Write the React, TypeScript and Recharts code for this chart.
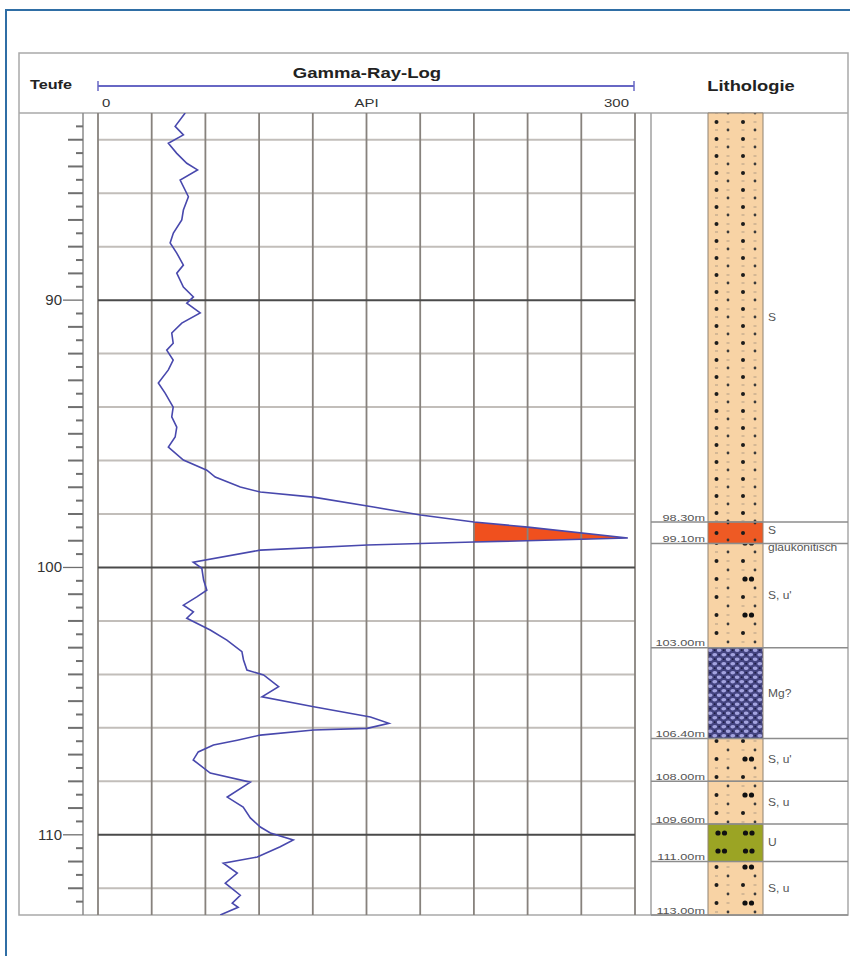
import React from 'react';
import {
  Area,
  ComposedChart,
  Line,
  ReferenceArea,
  ReferenceLine,
  XAxis,
  YAxis,
} from 'recharts';

const FONT = '"Liberation Sans", Arial, Helvetica, sans-serif';

// gamma-ray log, depth in m, reading in API
const depths = [
  83.0, 83.5, 83.82, 84.13, 84.51, 84.88, 85.13, 85.51, 86.13, 86.63, 87.0, 87.49, 87.86, 88.24,
  88.69, 88.99, 89.51, 89.88, 90.11, 90.48, 90.86, 91.23, 91.61, 91.87, 92.24, 92.61, 93.1, 93.48,
  94.0, 94.37, 94.75, 95.12, 95.5, 95.98, 96.36, 96.62, 96.99, 97.18, 97.37, 97.74, 98.04, 98.3,
  98.49, 98.9, 99.05, 99.16, 99.35, 99.8, 100.03, 100.47, 100.85, 101.1, 101.41, 101.66, 101.9,
  102.34, 102.72, 103.15, 103.46, 103.84, 104.02, 104.46, 104.84, 105.21, 105.59, 105.83, 106.02,
  106.08, 106.27, 106.46, 106.64, 106.9, 107.2, 107.69, 108.03, 108.59, 108.96, 109.37, 109.71,
  109.93, 110.19, 110.45, 110.83, 111.06, 111.43, 111.81, 112.26, 112.56, 112.71, 113.0,
];
const gammaApi = [
  48.7, 43.1, 47.7, 39.3, 44, 49.6, 55.6, 45.9, 50.5, 47.7, 46.8, 42.1, 40.3, 44, 47.7, 44, 47.7,
  53.3, 49.6, 57.1, 46.8, 41.2, 42, 38.4, 42, 39.3, 33.7, 37.5, 42, 41.2, 44, 43.1, 39.3, 47.7,
  60.8, 65.5, 79.5, 90.7, 120.3, 153.9, 180.2, 210, 240.1, 296, 210, 150.5, 90.7, 53.2, 58, 59,
  60.8, 55.2, 47.7, 53.3, 49.6, 62.7, 72, 80.4, 81.3, 83.2, 92.5, 100.9, 91.6, 120.5, 152.2, 162.5,
  150.4, 120.5, 90.7, 77.8, 64.5, 56, 53.2, 62.7, 85.1, 72.2, 81.1, 85.1, 90.7, 96.3, 109.1, 101.8,
  89, 70, 77.8, 71.1, 79.5, 75, 78.3, 68.3,
];
// shaded peak (glauconitic sand)
const anomalyTop = 98.3;
const anomalyBase = 99.05;
const anomalyCutoff = 210;

const apiTicks = [0, 150, 300];
const apiTickLabels = ['0', 'API', '300'];
const apiGrid = [0, 30, 60, 90, 120, 150, 180, 210, 240, 270, 300];
const minorDepthLines = [84, 86, 88, 92, 94, 96, 98, 102, 104, 106, 108, 112];
const majorDepthLines = [90, 100, 110];
const depthLabels = [90, 100, 110];
const depthTicks = Array.from({ length: 59 }, (_, i) => 83.5 + i * 0.5);

// lithology column
const lithTops = [83, 98.3, 99.1, 103, 106.4, 108, 109.6, 111];
const lithBases = [98.3, 99.1, 103, 106.4, 108, 109.6, 111, 113];
const lithNames = ['S', 'S\nglaukonitisch', "S, u'", 'Mg?', "S, u'", 'S, u', 'U', 'S, u'];
const lithPatterns = ['sand', 'glauk', 'sandSilt', 'marl', 'sandSilt', 'sandSilt', 'silt', 'sandSilt'];
const baseLabels = ['98.30m', '99.10m', '103.00m', '106.40m', '108.00m', '109.60m', '111.00m', '113.00m'];

const grRows = depths.map((d, i) => ({
  depth: d,
  api: gammaApi[i],
  band: d >= anomalyTop && d <= anomalyBase ? [anomalyCutoff, gammaApi[i]] : undefined,
}));

const lithRows = lithTops.map((t, i) => ({
  top: t,
  base: lithBases[i],
  name: lithNames[i],
  pattern: lithPatterns[i],
  baseLabel: baseLabels[i],
}));

const X_MIN = -(15 * 300) / 537;
const LITH_W = 197;
const STRIP_X1 = 57;
const STRIP_X2 = 112;

function SText({ x, y, sx = 1, anchor = 'start', size, bold = false, fill = '#222', children }: any) {
  return (
    <text
      transform={`translate(${x},${y}) scale(${sx},1)`}
      textAnchor={anchor}
      fontSize={size}
      fontWeight={bold ? 'bold' : 'normal'}
      fill={fill}
      fontFamily={FONT}
    >
      {children}
    </text>
  );
}

function DepthTick(props: any) {
  const { x, y, payload } = props;
  const v = payload.value;
  const labelled = depthLabels.includes(v);
  const whole = Number.isInteger(v);
  const len = labelled ? 20 : whole ? 15 : 7;
  return (
    <g>
      <line x1={x - len} x2={x} y1={y} y2={y} stroke="#6f6f6f" strokeWidth={labelled ? 1.3 : 2} />
      {labelled && (
        <text x={x - 21} y={y + 5} textAnchor="end" fontSize={15} fill="#333" fontFamily={FONT}>
          {v}
        </text>
      )}
    </g>
  );
}

function ApiTick(props: any) {
  const { x, y, payload } = props;
  const i = apiTicks.indexOf(payload.value);
  const anchor = i === 0 ? 'start' : i === apiTicks.length - 1 ? 'end' : 'middle';
  const dx = i === 0 ? 4 : i === apiTicks.length - 1 ? -6 : 0;
  return (
    <SText x={x + dx} y={y - 6} sx={1.3} anchor={anchor} size={11.5} fill="#333">
      {apiTickLabels[i]}
    </SText>
  );
}

const lithLabel = (name: string) => (props: any) => {
  const vb = props.viewBox;
  const lines = name.split('\n');
  const tx = vb.x + vb.width + 5;
  const cy = vb.y + vb.height / 2;
  return (
    <g>
      {lines.map((l, k) => (
        <SText key={k} x={tx} y={cy + (lines.length > 1 ? 1.5 + k * 17 : 3.5)} sx={1.2} size={10} fill="#555">
          {l}
        </SText>
      ))}
    </g>
  );
};

const baseLabel = (text: string) => (props: any) => {
  const vb = props.viewBox;
  return (
    <SText x={vb.x + STRIP_X1 - 3} y={vb.y - 1.5} sx={1.3} anchor="end" size={9.8} fill="#555">
      {text}
    </SText>
  );
};

export default function App() {
  return (
    <div style={{ position: 'absolute', left: 0, top: 0, width: 850, height: 956, background: '#fff', overflow: 'hidden' }}>
      {/* frame and header */}
      <svg width={850} height={956} style={{ position: 'absolute', left: 0, top: 0 }}>
        <rect x={6} y={10} width={900} height={1000} fill="none" stroke="#2f6ea5" strokeWidth={2} />
        <rect x={19} y={53} width={829} height={862} fill="none" stroke="#a9a9a9" strokeWidth={1.5} />
        <line x1={19} x2={848} y1={113} y2={113} stroke="#a9a9a9" strokeWidth={1.5} />
        <line x1={651} x2={651} y1={113} y2={915} stroke="#a0a0a0" strokeWidth={1.5} />
        <SText x={30} y={89} sx={1.35} size={12} bold>
          Teufe
        </SText>
        <SText x={367} y={78} sx={1.28} anchor="middle" size={14.5} bold>
          Gamma-Ray-Log
        </SText>
        <line x1={98} x2={634} y1={86} y2={86} stroke="#6767c4" strokeWidth={2} />
        <line x1={98} x2={98} y1={81} y2={91} stroke="#6767c4" strokeWidth={1.5} />
        <line x1={634} x2={634} y1={81} y2={91} stroke="#6767c4" strokeWidth={1.5} />
        <SText x={751} y={91} sx={1.18} anchor="middle" size={15.5} bold>
          Lithologie
        </SText>
      </svg>

      {/* gamma-ray log */}
      <div style={{ position: 'absolute', left: 0, top: 0 }}>
        <ComposedChart
          layout="vertical"
          width={640}
          height={956}
          data={grRows}
          margin={{ top: 93, right: 5, bottom: 41, left: 0 }}
        >
          <XAxis
            type="number"
            orientation="top"
            domain={[X_MIN, 300]}
            allowDataOverflow
            ticks={apiTicks}
            interval={0}
            height={20}
            axisLine={false}
            tickLine={false}
            tickSize={0}
            tickMargin={0}
            tick={<ApiTick />}
          />
          <YAxis
            type="number"
            dataKey="depth"
            domain={[83, 113]}
            allowDataOverflow
            ticks={depthTicks}
            interval={0}
            width={83}
            tickSize={0}
            tickMargin={0}
            tickLine={false}
            axisLine={{ stroke: '#8a8a8a', strokeWidth: 1.5 }}
            tick={<DepthTick />}
          />

          {minorDepthLines.map((d) => (
            <ReferenceLine
              key={`h${d}`}
              segment={[{ x: 0, y: d }, { x: 300, y: d }]}
              stroke="#c2beba"
              strokeWidth={2}
            />
          ))}
          {apiGrid.map((v) => (
            <ReferenceLine key={`v${v}`} x={v} stroke="#87827d" strokeWidth={1.8} />
          ))}
          {majorDepthLines.map((d) => (
            <ReferenceLine
              key={`m${d}`}
              segment={[{ x: 0, y: d }, { x: 300, y: d }]}
              stroke="#4a4a4a"
              strokeWidth={2}
            />
          ))}

          <Area
            type="linear"
            dataKey="band"
            stroke="none"
            fill="#f0501e"
            fillOpacity={1}
            isAnimationActive={false}
          />
          <Line
            type="linear"
            dataKey="api"
            stroke="#4848ad"
            strokeWidth={1.6}
            dot={false}
            isAnimationActive={false}
          />
        </ComposedChart>
      </div>

      {/* lithology column */}
      <div style={{ position: 'absolute', left: 651, top: 0 }}>
        <ComposedChart
          layout="vertical"
          width={LITH_W}
          height={956}
          data={lithRows}
          margin={{ top: 113, right: 0, bottom: 41, left: 0 }}
        >
          <defs>
            <pattern id="sand" patternUnits="userSpaceOnUse" x={STRIP_X1} y={0} width={55} height={17}>
              <rect width={55} height={17} fill="#f8d3a5" />
              <circle cx={8.5} cy={3} r={2} fill="#1c1c1c" />
              <circle cx={35} cy={3} r={2} fill="#1c1c1c" />
              <circle cx={20} cy={11} r={1.4} fill="#3a3a3a" />
              <circle cx={47} cy={11} r={1.4} fill="#3a3a3a" />
              <rect x={18.5} y={2.5} width={3} height={1} fill="#b09c84" />
              <rect x={45.5} y={2.5} width={3} height={1} fill="#b09c84" />
              <rect x={7} y={10.5} width={3} height={1} fill="#b09c84" />
              <rect x={33.5} y={10.5} width={3} height={1} fill="#b09c84" />
            </pattern>
            <pattern id="sandSilt" patternUnits="userSpaceOnUse" x={STRIP_X1} y={0} width={55} height={36}>
              <rect width={55} height={36} fill="#f8d3a5" />
              <circle cx={8.5} cy={3} r={2} fill="#1c1c1c" />
              <circle cx={37} cy={3} r={2.6} fill="#111" />
              <circle cx={43.5} cy={3} r={2.6} fill="#111" />
              <circle cx={20} cy={12} r={1.4} fill="#3a3a3a" />
              <circle cx={47} cy={12} r={1.4} fill="#3a3a3a" />
              <circle cx={8.5} cy={21} r={2} fill="#1c1c1c" />
              <circle cx={35} cy={21} r={2} fill="#1c1c1c" />
              <circle cx={20} cy={30} r={1.4} fill="#3a3a3a" />
              <circle cx={47} cy={30} r={1.4} fill="#3a3a3a" />
              <rect x={18.5} y={2.5} width={3} height={1} fill="#b09c84" />
              <rect x={18.5} y={20.5} width={3} height={1} fill="#b09c84" />
              <rect x={45.5} y={20.5} width={3} height={1} fill="#b09c84" />
              <rect x={7} y={11.5} width={3} height={1} fill="#b09c84" />
              <rect x={33.5} y={29.5} width={3} height={1} fill="#b09c84" />
            </pattern>
            <pattern id="glauk" patternUnits="userSpaceOnUse" x={STRIP_X1} y={0} width={55} height={17}>
              <rect width={55} height={17} fill="#ee5a24" />
              <circle cx={8.5} cy={6} r={2} fill="#1c1c1c" />
              <circle cx={35} cy={6} r={2} fill="#1c1c1c" />
              <circle cx={20} cy={13} r={1.4} fill="#333" />
              <circle cx={47} cy={13} r={1.4} fill="#333" />
            </pattern>
            <pattern id="silt" patternUnits="userSpaceOnUse" x={STRIP_X1} y={0} width={55} height={18}>
              <rect width={55} height={18} fill="#9ba424" />
              <circle cx={10} cy={5} r={2.6} fill="#111" />
              <circle cx={16.5} cy={5} r={2.6} fill="#111" />
              <circle cx={37.5} cy={5} r={2.6} fill="#111" />
              <circle cx={44} cy={5} r={2.6} fill="#111" />
            </pattern>
            <pattern id="marl" patternUnits="userSpaceOnUse" x={STRIP_X1} y={0} width={9} height={9}>
              <rect width={9} height={9} fill="#43437f" />
              <ellipse cx={2.2} cy={2.2} rx={2.4} ry={1.7} fill="#a3a3df" />
              <ellipse cx={6.7} cy={6.7} rx={2.4} ry={1.7} fill="#a3a3df" />
              <circle cx={6.7} cy={2.2} r={0.9} fill="#1e1e44" />
              <circle cx={2.2} cy={6.7} r={0.9} fill="#1e1e44" />
            </pattern>
          </defs>
          <XAxis
            type="number"
            domain={[0, LITH_W]}
            allowDataOverflow
            height={0}
            tick={false}
            tickLine={false}
            axisLine={false}
          />
          <YAxis
            type="number"
            dataKey="top"
            domain={[83, 113]}
            allowDataOverflow
            width={0}
            tick={false}
            tickLine={false}
            axisLine={false}
          />
          {lithRows.map((r) => (
            <ReferenceArea
              key={`a${r.top}`}
              x1={STRIP_X1}
              x2={STRIP_X2}
              y1={r.top}
              y2={r.base}
              fill={`url(#${r.pattern})`}
              fillOpacity={1}
              stroke="#8f8273"
              strokeWidth={1}
              label={lithLabel(r.name)}
            />
          ))}
          {lithRows.map((r) => (
            <ReferenceLine
              key={`b${r.base}`}
              y={r.base}
              stroke="#8c8c8c"
              strokeWidth={1.5}
              label={baseLabel(r.baseLabel)}
            />
          ))}
        </ComposedChart>
      </div>
    </div>
  );
}
